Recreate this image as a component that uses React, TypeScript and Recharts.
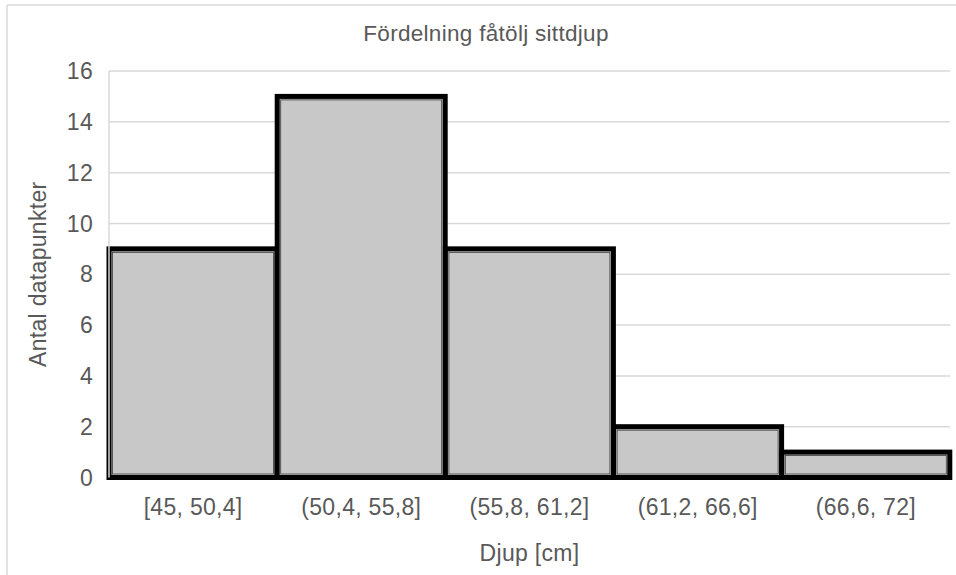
import React from 'react';
import { BarChart, Bar, XAxis, YAxis, CartesianGrid } from 'recharts';

// Histogram of seat depths, grouped into bins
const bins = ['[45, 50,4]', '(50,4, 55,8]', '(55,8, 61,2]', '(61,2, 66,6]', '(66,6, 72]'];
const counts = [9, 15, 9, 2, 1];
const yTicks = [0, 2, 4, 6, 8, 10, 12, 14, 16];

const title = 'Fördelning fåtölj sittdjup';
const xTitle = 'Djup [cm]';
const yTitle = 'Antal datapunkter';

const data = bins.map((bin, i) => ({ bin, count: counts[i] }));

const TEXT = '#595959';
const FONT = '"Liberation Sans", Arial, sans-serif';

const HistBar = (props: any) => {
  const { x, y, width, height } = props;
  if (!height || height <= 0) return null;
  return (
    <g>
      <rect x={x} y={y} width={width} height={height} fill="#c8c8c8" stroke="#000" strokeWidth={5} />
      <rect x={x + 3.5} y={y + 3.5} width={Math.max(width - 7, 0)} height={Math.max(height - 7, 0)} fill="none" stroke="#3c3c3c" strokeWidth={0.8} />
    </g>
  );
};

const YTitle = (props: any) => {
  const vb = props.viewBox || {};
  const cx = vb.x + 46;
  const cy = vb.y + vb.height / 2;
  return (
    <text x={cx} y={cy} transform={`rotate(-90, ${cx}, ${cy})`} textAnchor="middle" fill={TEXT} fontSize={23} fontFamily={FONT} letterSpacing={0.3}>
      {yTitle}
    </text>
  );
};

const XTitle = (props: any) => {
  const vb = props.viewBox || {};
  return (
    <text x={vb.x + vb.width / 2} y={vb.y + 83.5} textAnchor="middle" fill={TEXT} fontSize={23} fontFamily={FONT} letterSpacing={0.3}>
      {xTitle}
    </text>
  );
};

export default function App() {
  const tickStyle = { fill: TEXT, fontSize: 23, fontFamily: FONT, letterSpacing: 0.3 };
  return (
    <div style={{ position: 'absolute', left: 0, top: 0, width: 956, height: 575, background: '#fff' }}>
      <BarChart
        width={956}
        height={575}
        data={data}
        margin={{ top: 71, right: 6, bottom: 37.5, left: 0 }}
        barCategoryGap={0}
      >
        <CartesianGrid vertical={false} stroke="#d9d9d9" strokeWidth={1.5} />
        <XAxis
          dataKey="bin"
          height={60}
          tickLine={false}
          tickSize={0}
          tickMargin={21}
          axisLine={{ stroke: '#000', strokeWidth: 1.5 }}
          tick={tickStyle}
          interval={0}
          label={<XTitle />}
        />
        <YAxis
          width={109}
          domain={[0, 16]}
          ticks={yTicks}
          interval={0}
          tickLine={false}
          tickSize={0}
          tickMargin={16}
          axisLine={{ stroke: '#d9d9d9', strokeWidth: 1.5 }}
          tick={tickStyle}
          label={<YTitle />}
        />
        <Bar dataKey="count" shape={<HistBar />} isAnimationActive={false} />
      </BarChart>
      <svg width={956} height={575} style={{ position: 'absolute', left: 0, top: 0, pointerEvents: 'none' }}>
        <line x1={7} y1={5} x2={956} y2={5} stroke="#d9d9d9" strokeWidth={1.5} />
        <line x1={7} y1={5} x2={7} y2={575} stroke="#d9d9d9" strokeWidth={1.5} />
        <text x={486} y={41} textAnchor="middle" fill={TEXT} fontSize={22.5} fontFamily={FONT} letterSpacing={0.3}>
          {title}
        </text>
      </svg>
    </div>
  );
}
